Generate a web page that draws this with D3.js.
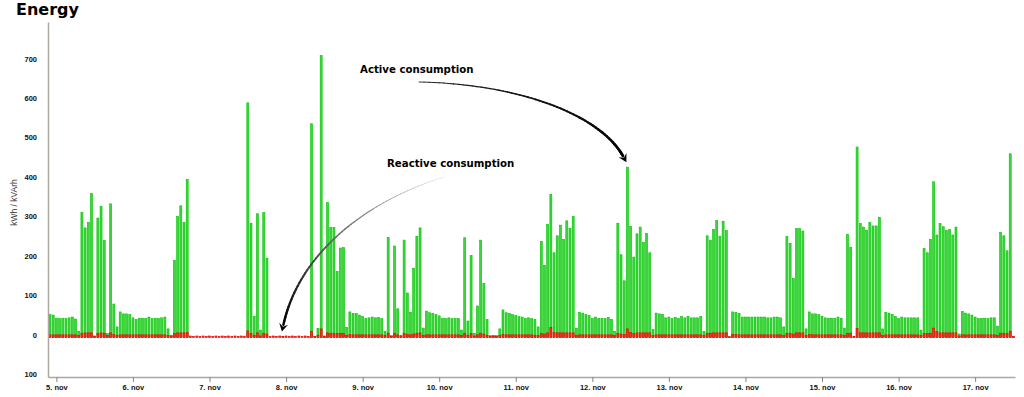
<!DOCTYPE html>
<html>
<head>
<meta charset="utf-8">
<script src="https://cdn.jsdelivr.net/npm/d3@7/dist/d3.min.js"></script>
<style>
html, body { margin: 0; padding: 0; background: #fff; }
svg { display: block; }
</style>
</head>
<body>
<svg id="chart" width="1024" height="397"></svg>
<script>
// hourly readings, first bar = 4 nov 22:00
var startHour = new Date(2014, 10, 4, 22);
var monthNames = ["jan", "feb", "mar", "apr", "maj", "jun", "jul", "aug", "sep", "okt", "nov", "dec"];
var yTicks = [-100, 0, 100, 200, 300, 400, 500, 600, 700];
var yTitle = "kWh / kVArh";
var chartTitle = "Energy";
var activeLabel = "Active consumption";
var reactiveLabel = "Reactive consumption";

var active = [
  58, 57, 49, 48, 49, 48, 50, 52, 47, 16,
  317, 278, 292, 365, 3, 303, 332, 246, 10, 339,
  85, 27, 65, 60, 60, 58, 50, 46, 49, 49,
  48, 52, 48, 49, 48, 50, 52, 22, 6, 196,
  307, 334, 292, 401, 0, 0, 0, 0, 0, 0,
  0, 0, 0, 0, 0, 0, 0, 0, 0, 0,
  0, 0, 595, 290, 54, 314, 19, 317, 201, 0,
  0, 0, 0, 3, 0, 0, 0, 0, 0, 0,
  0, 0, 542, 3, 23, 715, 3, 342, 279, 279,
  168, 227, 228, 26, 65, 61, 61, 57, 53, 48,
  50, 52, 50, 51, 48, 16, 254, 5, 232, 73,
  6, 247, 113, 64, 176, 257, 278, 24, 67, 63,
  61, 58, 55, 48, 48, 50, 48, 48, 48, 19,
  253, 42, 208, 10, 80, 247, 137, 46, 5, 5,
  5, 22, 70, 63, 61, 58, 56, 53, 52, 48,
  50, 48, 46, 27, 244, 183, 287, 363, 215, 258,
  285, 249, 296, 277, 307, 24, 64, 62, 58, 56,
  48, 52, 48, 49, 48, 51, 46, 16, 290, 210,
  144, 432, 282, 204, 263, 280, 241, 264, 215, 20,
  62, 60, 59, 50, 52, 48, 51, 48, 54, 50,
  54, 50, 50, 50, 54, 15, 258, 247, 274, 297,
  257, 295, 271, 2, 65, 64, 61, 52, 52, 52,
  52, 52, 52, 52, 52, 50, 50, 52, 52, 50,
  27, 256, 239, 150, 276, 276, 270, 22, 65, 60,
  60, 58, 54, 50, 49, 49, 49, 52, 49, 24,
  262, 229, 2, 483, 289, 280, 272, 292, 283, 283,
  305, 22, 64, 62, 59, 54, 48, 52, 50, 50,
  50, 50, 50, 19, 226, 215, 249, 395, 260, 289,
  281, 271, 274, 260, 280, 9, 66, 62, 60, 57,
  52, 48, 48, 49, 48, 50, 50, 29, 267, 258,
  220, 466, 2
];

var reactive = [
  7, 7, 7, 7, 7, 7, 7, 7, 7, 5,
  11, 12, 12, 12, 4, 11, 12, 11, 5, 12,
  8, 6, 7, 7, 7, 7, 7, 7, 7, 7,
  7, 7, 7, 7, 7, 7, 7, 5, 4, 10,
  12, 12, 12, 13, 4, 3, 4, 3, 4, 3,
  4, 3, 4, 3, 4, 3, 4, 3, 4, 3,
  4, 3, 17, 11, 6, 12, 4, 11, 9, 3,
  4, 3, 4, 3, 4, 3, 4, 3, 4, 3,
  4, 3, 16, 3, 6, 22, 4, 12, 11, 11,
  10, 11, 10, 5, 8, 7, 7, 7, 7, 7,
  7, 7, 7, 7, 7, 5, 11, 3, 11, 7,
  4, 11, 8, 7, 9, 11, 12, 5, 7, 7,
  7, 7, 7, 7, 7, 7, 7, 7, 7, 5,
  11, 6, 10, 4, 7, 11, 9, 6, 3, 4,
  3, 5, 8, 7, 7, 7, 7, 7, 7, 7,
  7, 7, 6, 5, 10, 9, 12, 26, 13, 12,
  12, 12, 12, 12, 12, 5, 7, 7, 7, 7,
  7, 7, 7, 7, 7, 7, 7, 5, 11, 9,
  8, 22, 13, 10, 12, 12, 12, 12, 12, 5,
  7, 7, 7, 7, 7, 7, 7, 7, 7, 7,
  7, 7, 7, 7, 7, 5, 11, 11, 12, 12,
  12, 12, 12, 2, 8, 8, 7, 7, 7, 7,
  7, 7, 7, 7, 7, 7, 7, 7, 7, 7,
  5, 11, 11, 9, 12, 12, 12, 5, 8, 7,
  7, 7, 7, 7, 7, 7, 7, 7, 7, 5,
  11, 11, 3, 23, 12, 12, 12, 12, 12, 12,
  12, 5, 7, 7, 7, 7, 7, 7, 7, 7,
  7, 7, 7, 5, 10, 10, 11, 24, 15, 12,
  12, 12, 12, 12, 12, 4, 7, 7, 7, 7,
  7, 7, 7, 7, 7, 7, 7, 5, 11, 11,
  10, 16, 3
];

var margin = {top: 22, right: 9, bottom: 20, left: 48},
  width = 1024, height = 397,
  svg = d3.select("#chart"),
  rows = active.map(function(v, i) {
    return {date: d3.timeHour.offset(startHour, i), active: v, reactive: reactive[i]};
  }),
  x = d3.scaleTime()
    .domain([d3.timeMinute.offset(startHour, -38), d3.timeMinute.offset(startHour, 302 * 60 + 30)])
    .range([margin.left, width - margin.right]),
  y = d3.scaleLinear()
    .domain([-100, 800])
    .range([height - margin.bottom, margin.top]),
  barW = 2.0,
  labelFont = "'Liberation Sans', Arial, sans-serif",
  heavyFont = "'DejaVu Sans', sans-serif";

svg.append("rect").attr("width", width).attr("height", height).attr("fill", "#fff");

svg.append("text")
  .attr("x", 16).attr("y", 15)
  .attr("font-family", heavyFont).attr("font-weight", "bold")
  .attr("font-size", 16).attr("fill", "#000")
  .text(chartTitle);

// bars
var bars = svg.append("g").attr("class", "bars");
bars.selectAll("rect.active")
  .data(rows)
  .enter().append("rect")
    .attr("class", "active")
    .attr("x", function(d) { return x(d.date) - barW / 2; })
    .attr("width", barW)
    .attr("y", function(d) { return y(d.active); })
    .attr("height", function(d) { return y(0) - y(d.active); })
    .attr("fill", "#3ed43e")
    .attr("stroke", "#00c600")
    .attr("stroke-width", 0.6);

bars.selectAll("rect.reactive")
  .data(rows)
  .enter().append("rect")
    .attr("class", "reactive")
    .attr("x", function(d) { return x(d.date) - barW / 2; })
    .attr("width", barW)
    .attr("y", function(d) { return y(d.reactive); })
    .attr("height", function(d) { return y(0) - y(d.reactive); })
    .attr("fill", "#ff2a2a")
    .attr("stroke", "#f00000")
    .attr("stroke-width", 0.6);

// axes
var axisColor = "#aca79f";
var yAxis = svg.append("g")
  .attr("transform", "translate(" + margin.left + ",0)")
  .call(d3.axisLeft(y).tickValues(yTicks).tickSize(0).tickPadding(11)
    .tickFormat(function(d) { return Math.abs(d); }));
yAxis.select(".domain").attr("stroke", axisColor).attr("stroke-width", 1.5);
yAxis.selectAll("text")
  .attr("dy", "-0.05em")
  .attr("font-family", labelFont).attr("font-weight", "bold")
  .attr("font-size", 7.5).attr("fill", "#111");

var xAxis = svg.append("g")
  .attr("transform", "translate(0," + y(-100) + ")")
  .call(d3.axisBottom(x).ticks(d3.timeDay.every(1)).tickSize(5).tickSizeOuter(0).tickPadding(3)
    .tickFormat(function(d) { return d.getDate() + ". " + monthNames[d.getMonth()]; }));
xAxis.select(".domain").attr("stroke", axisColor).attr("stroke-width", 1.5);
xAxis.selectAll(".tick line").attr("stroke", "#8a857e");
xAxis.selectAll("text")
  .attr("font-family", labelFont).attr("font-weight", "bold")
  .attr("font-size", 7.5).attr("fill", "#111");

svg.append("text")
  .attr("transform", "translate(17," + ((y(-100) + margin.top) / 2 + 3) + ") rotate(-90)")
  .attr("text-anchor", "middle")
  .attr("font-family", labelFont).attr("font-size", 8.5).attr("fill", "#333")
  .text(yTitle);

// annotations
function curveArrow(p0, p1, p2, tip, w0, w1, c0, c1) {
  var g = svg.append("g"),
    headLen = 8,
    dx = tip[0] - p2[0], dy = tip[1] - p2[1],
    len = Math.sqrt(dx * dx + dy * dy),
    ux = dx / len, uy = dy / len,
    p3 = [tip[0] - ux * (headLen - 1), tip[1] - uy * (headLen - 1)],
    col = d3.interpolateRgb(c0, c1),
    n = 60, pts = [], k, t, mt;
  for (k = 0; k <= n; k++) {
    t = k / n; mt = 1 - t;
    pts.push([
      mt * mt * mt * p0[0] + 3 * mt * mt * t * p1[0] + 3 * mt * t * t * p2[0] + t * t * t * p3[0],
      mt * mt * mt * p0[1] + 3 * mt * mt * t * p1[1] + 3 * mt * t * t * p2[1] + t * t * t * p3[1]
    ]);
  }
  for (k = 0; k < n; k++) {
    g.append("line")
      .attr("x1", pts[k][0]).attr("y1", pts[k][1])
      .attr("x2", pts[k + 1][0]).attr("y2", pts[k + 1][1])
      .attr("stroke", col(k / n))
      .attr("stroke-width", w0 + (w1 - w0) * k / n)
      .attr("stroke-linecap", "round");
  }
  var bx = tip[0] - ux * headLen, by = tip[1] - uy * headLen,
    nx = tip[0] - ux * (headLen - 3), ny = tip[1] - uy * (headLen - 3),
    px = -uy * 4.5, py = ux * 4.5;
  g.append("path")
    .attr("d", "M" + tip[0] + "," + tip[1] +
      "L" + (bx + px) + "," + (by + py) +
      "L" + nx + "," + ny +
      "L" + (bx - px) + "," + (by - py) + "Z")
    .attr("fill", c1);
}

var peak = rows[181];
curveArrow([419, 82], [520, 84], [600, 115], [x(peak.date) - 1, y(peak.active) - 5], 0.9, 2.8, "#222", "#000");
var quiet = rows[73];
curveArrow([444, 177], [370, 200], [300, 250], [x(quiet.date) - 1, y(0) - 6], 0.4, 2.5, "#d8d8d8", "#000");

svg.append("text")
  .attr("x", 360).attr("y", 73)
  .attr("font-family", heavyFont).attr("font-weight", "bold")
  .attr("font-size", 10.2).attr("fill", "#000")
  .text(activeLabel);

svg.append("text")
  .attr("x", 387).attr("y", 167)
  .attr("font-family", heavyFont).attr("font-weight", "bold")
  .attr("font-size", 10.2).attr("fill", "#000")
  .text(reactiveLabel);
</script>
</body>
</html>
